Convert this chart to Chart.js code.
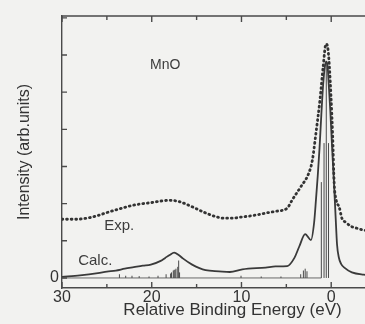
<!DOCTYPE html>
<html>
<head>
<meta charset="utf-8">
<script src="https://cdn.jsdelivr.net/npm/chart.js@4/dist/chart.umd.min.js"></script>
<style>
  html, body { margin: 0; padding: 0; overflow: hidden; background: #f2f2f0; }
  #wrap { position: relative; width: 410px; height: 324px; }
</style>
</head>
<body>
<div id="wrap"><canvas id="spectrum"></canvas></div>
<script>
// MnO valence band: experiment (dotted) vs. calculation (solid + sticks)
const expEnergy = [30, 28.5, 27, 26, 25, 24, 23, 22, 21, 20, 19, 18, 17, 16, 15, 14, 13, 12, 11, 10, 9, 8, 7, 6, 4.9, 4.3, 3.4, 2.5, 2.1, 1.7, 1.25, 0.9, 0.58, 0.4, 0.2, -0.15, -0.33, -0.55, -0.9, -1.2, -1.6, -2.3, -2.7, -3.6, -5, -8];
const expIntensity = [1.58, 1.58, 1.62, 1.68, 1.76, 1.83, 1.9, 1.96, 2.0, 2.03, 2.07, 2.09, 2.06, 1.97, 1.86, 1.75, 1.66, 1.61, 1.61, 1.64, 1.67, 1.71, 1.76, 1.8, 1.88, 2.12, 2.45, 2.82, 3.17, 3.9, 4.8, 5.68, 6.3, 6.22, 5.68, 3.9, 2.55, 2.1, 1.9, 1.6, 1.5, 1.38, 1.35, 1.29, 1.25, 1.2];

const calcEnergy = [30, 28, 26, 25, 24, 23, 22, 21, 20.1, 19, 18.5, 18, 17.5, 17, 16.5, 15.5, 14, 12.5, 11.3, 9.9, 7.3, 6.2, 4.9, 4.1, 3.57, 2.9, 2.26, 1.9, 1.7, 1.5, 1.3, 1.1, 0.9, 0.7, 0.55, 0.4, 0.3, 0.1, -0.1, -0.3, -0.5, -0.65, -0.85, -1.1, -1.5, -2.3, -3.6, -5, -8];
const calcIntensity = [0.03, 0.07, 0.13, 0.17, 0.2, 0.25, 0.29, 0.33, 0.36, 0.46, 0.54, 0.62, 0.68, 0.62, 0.52, 0.36, 0.21, 0.18, 0.16, 0.23, 0.28, 0.31, 0.32, 0.54, 0.84, 1.18, 1.02, 1.5, 2.1, 2.75, 3.5, 4.4, 5.2, 5.7, 5.82, 5.7, 5.3, 4.5, 3.5, 2.6, 1.6, 0.9, 0.55, 0.38, 0.27, 0.15, 0.09, 0.07, 0.06];

// discrete calculated lines
const stickEnergy = [23.6, 22.9, 22.2, 21.4, 20.3, 19.3, 18.4, 17.9, 17.8, 17.6, 17.5, 17.4, 17.3, 17.1, 17.0, 16.9, 10.05, 7.8, 5.6, 3.4, 3.1, 2.9, 2.7, 1.1, 0.8, 0.55, 0.3];
const stickHeight = [0.1, 0.06, 0.06, 0.05, 0.04, 0.06, 0.1, 0.12, 0.15, 0.2, 0.22, 0.22, 0.25, 0.3, 0.47, 0.15, 0.06, 0.04, 0.04, 0.1, 0.2, 0.25, 0.18, 2.58, 3.63, 5.8, 3.63];
const stickBase = [30, 1.1];

const xTicks = [-5, 0, 5, 10, 15, 20, 25, 30];
const yTicks = [0, 1, 2, 3, 4, 5, 6, 7];

const notes = [
  { text: 'MnO', x: 18.5, y: 5.72, size: 14 },
  { text: 'Exp.', x: 25.3, y: 1.39, size: 15 },
  { text: 'Calc.', x: 28.2, y: 0.47, size: 15 },
];

const ink = '#3a3a3a';
const fontFamily = 'Liberation Sans, Arial, Helvetica, sans-serif';

const zip = (xs, ys) => xs.map((x, i) => ({ x: x, y: ys[i] }));

const stickPoints = [];
stickEnergy.forEach((e, i) => {
  stickPoints.push({ x: e, y: 0 }, { x: e, y: stickHeight[i] }, { x: e, y: null });
});

// inward tick marks, top frame line and the in-plot labels
const frame = {
  id: 'frame',
  afterDraw(chart) {
    const { ctx, chartArea: a, scales } = chart;
    const xs = scales.x, ys = scales.y;
    ctx.save();
    ctx.strokeStyle = '#4a4a4a';
    ctx.lineWidth = 1.4;
    ctx.beginPath();
    ctx.moveTo(a.left, a.top);
    ctx.lineTo(a.right, a.top);
    xTicks.forEach(v => {
      const px = xs.getPixelForValue(v);
      const len = v % 10 === 0 ? 6 : 4;
      ctx.moveTo(px, a.bottom);
      ctx.lineTo(px, a.bottom - len);
      ctx.moveTo(px, a.top);
      ctx.lineTo(px, a.top + len);
    });
    yTicks.forEach(v => {
      const py = ys.getPixelForValue(v);
      ctx.moveTo(a.left, py);
      ctx.lineTo(a.left + 5, py);
    });
    ctx.stroke();

    ctx.fillStyle = '#3c3c3c';
    ctx.textBaseline = 'middle';
    notes.forEach(n => {
      ctx.font = n.size + 'px ' + fontFamily;
      ctx.textAlign = n.text === 'MnO' ? 'center' : 'left';
      ctx.fillText(n.text, xs.getPixelForValue(n.x), ys.getPixelForValue(n.y));
    });
    ctx.restore();
  }
};

new Chart(document.getElementById('spectrum').getContext('2d'), {
  type: 'scatter',
  data: {
    datasets: [
      {
        label: 'Exp.',
        data: zip(expEnergy, expIntensity),
        showLine: true,
        borderColor: '#333',
        borderWidth: 2.8,
        borderDash: [0.8, 3.8],
        borderCapStyle: 'round',
        cubicInterpolationMode: 'monotone',
        pointRadius: 0,
      },
      {
        label: 'Calc.',
        data: zip(calcEnergy, calcIntensity),
        showLine: true,
        borderColor: ink,
        borderWidth: 1.8,
        cubicInterpolationMode: 'monotone',
        pointRadius: 0,
      },
      {
        label: 'lines',
        data: stickPoints,
        showLine: true,
        spanGaps: false,
        borderColor: '#4a4a4a',
        borderWidth: 1,
        pointRadius: 0,
      },
      {
        label: 'base',
        data: stickBase.map(e => ({ x: e, y: 0 })),
        showLine: true,
        borderColor: '#6a6a6a',
        borderWidth: 1,
        pointRadius: 0,
      },
    ]
  },
  options: {
    responsive: true,
    maintainAspectRatio: false,
    animation: false,
    layout: { padding: { top: 16, right: 7, left: 0, bottom: 0 } },
    plugins: {
      legend: { display: false },
      tooltip: { enabled: false },
    },
    scales: {
      x: {
        type: 'linear',
        reverse: true,
        min: -8,
        max: 30,
        afterBuildTicks: scale => { scale.ticks = xTicks.map(v => ({ value: v })); },
        afterFit: scale => { scale.height = 36; },
        grid: { display: false, drawTicks: false, tickLength: 0 },
        border: { display: true, color: '#4a4a4a', width: 1.4 },
        ticks: {
          padding: 0,
          maxRotation: 0,
          autoSkip: false,
          color: '#333',
          font: { family: fontFamily, size: 16 },
          callback: v => (v % 10 === 0 && v >= 0 ? String(v) : ''),
        },
        title: {
          display: true,
          text: 'Relative Binding Energy (eV)',
          color: '#333',
          font: { family: fontFamily, size: 17 },
          padding: { top: 0, bottom: 3 },
        },
      },
      y: {
        type: 'linear',
        min: -0.27,
        max: 7.05,
        afterBuildTicks: scale => { scale.ticks = yTicks.map(v => ({ value: v })); },
        afterFit: scale => { scale.width = 62; },
        grid: { display: false, drawTicks: false, tickLength: 0 },
        border: { display: true, color: '#4a4a4a', width: 1.4 },
        ticks: {
          padding: 3,
          color: '#333',
          font: { family: fontFamily, size: 16 },
          callback: v => (v === 0 ? '0' : ''),
        },
        title: {
          display: true,
          text: 'Intensity (arb.units)',
          color: '#333',
          font: { family: fontFamily, size: 16 },
          padding: { top: 15, bottom: 0 },
        },
      },
    },
  },
  plugins: [frame],
});
</script>
</body>
</html>
